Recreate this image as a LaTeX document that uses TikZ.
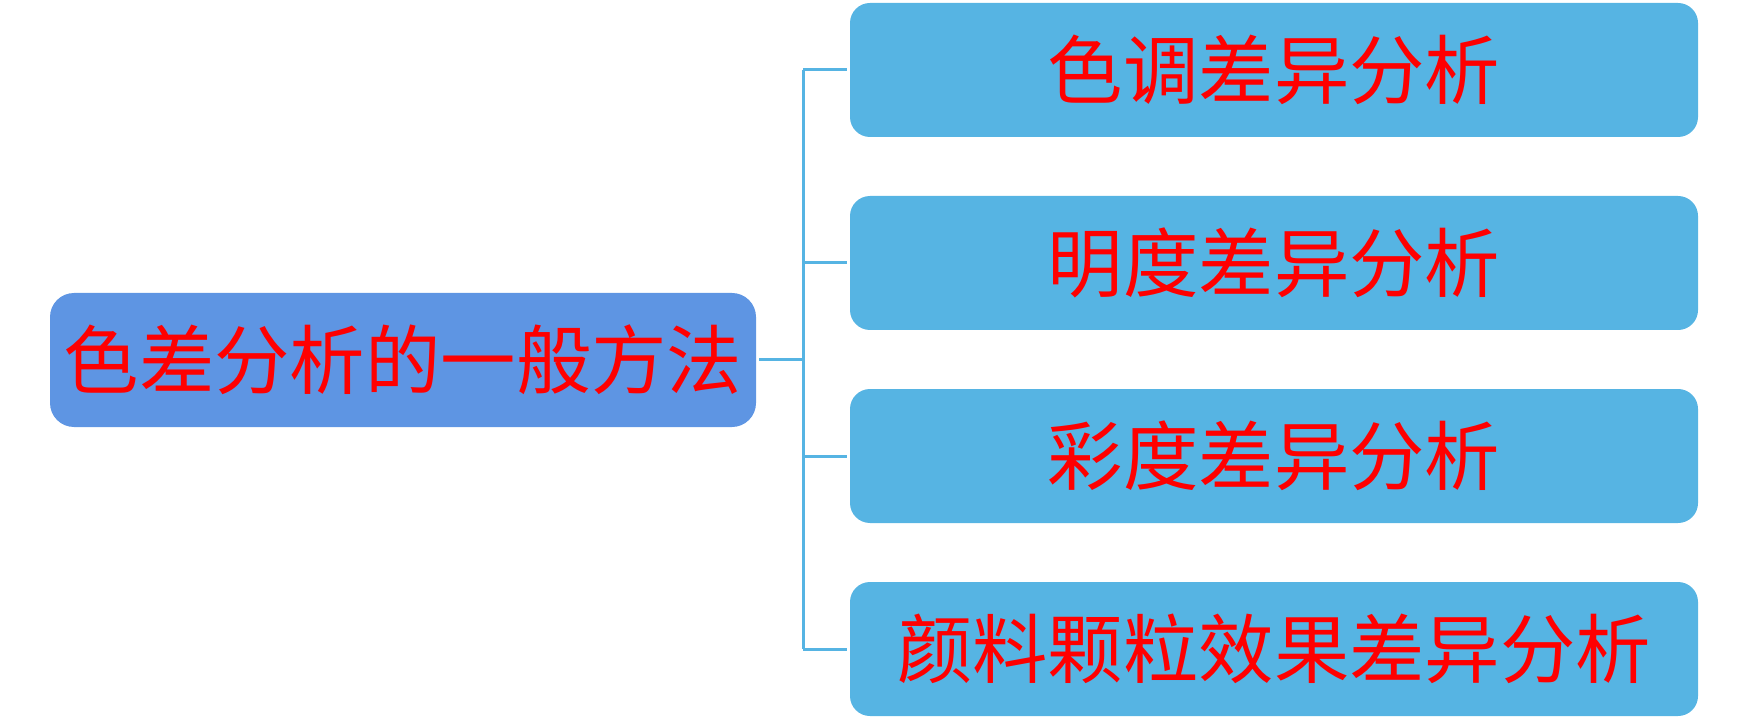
\documentclass[tikz,border=0pt]{standalone}
\usepackage{fontspec}
\newfontfamily\cjk{Noto Sans CJK SC}
\definecolor{hauptblau}{RGB}{94,149,227}
\definecolor{astblau}{RGB}{86,180,227}
\tikzset{
  hauptbox/.style={fill=hauptblau, rounded corners=12pt, minimum width=353pt, minimum height=67pt, inner sep=0pt, text=red, font=\cjk\fontsize{37.7}{44}\selectfont},
  unterbox/.style={fill=astblau, rounded corners=10pt, minimum width=424pt, minimum height=67pt, inner sep=0pt, text=red, font=\cjk\fontsize{37.7}{44}\selectfont},
  linie/.style={draw=astblau, line width=1.5pt}
}
\begin{document}
\begin{tikzpicture}[x=0.5pt, y=-0.5pt]
  \useasboundingbox (0,0) rectangle (1749,721);

  % Hauptknoten
  \node[hauptbox] (methode) at (403,360) {色差分析的一般方法};

  % Teilanalysen
  \node[unterbox] (farbton) at (1274,70) {色调差异分析};
  \node[unterbox] (helligkeit) at (1274,263) {明度差异分析};
  \node[unterbox] (buntheit) at (1274,456) {彩度差异分析};
  \node[unterbox] (pigment) at (1274,649) {颜料颗粒效果差异分析};

  % Verbindungen
  \coordinate (ast) at (803,360);
  \draw[linie] ([xshift=1.5pt]methode.east) -- (ast);
  \draw[linie] (ast |- farbton.west) -- (ast |- pigment.west);
  \foreach \ziel in {farbton,helligkeit,buntheit,pigment} {
    \draw[linie] (ast |- \ziel.west) -- ([xshift=-1.5pt]\ziel.west);
  }
\end{tikzpicture}
\end{document}
